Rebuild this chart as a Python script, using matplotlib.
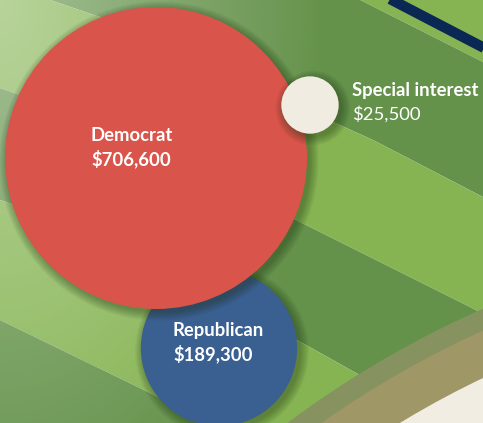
import numpy as np
import matplotlib.pyplot as plt
from matplotlib.patches import Circle

# campaign money by source
parties = ['Democrat', 'Republican', 'Special interest']
amounts = [706600, 189300, 25500]
amount_labels = ['$706,600', '$189,300', '$25,500']
colors = ['#d9544a', '#3a5f91', '#f0ece2']

# layout (pixels, y down)
W, H = 483, 423
centers = [(156, 158), (219, 348), (310, 105)]
r_max = 151
label_pos = [(91, 141), (173, 336), (352, 96)]
value_weight = ['bold', 'bold', 'normal']

# mowing stripe boundaries
bounds = [
    [(250, -56), (380, 10), (483, 62)],
    [(-10, -19), (50, 0), (100, 17), (373, 140), (483, 197)],
    [(-10, 85), (0, 88), (20, 95), (290, 217), (470, 307), (483, 314)],
    [(-10, 197), (0, 200), (60, 220), (297, 340), (365, 378), (483, 444)],
    [(-10, 315), (0, 320), (150, 393), (300, 470), (483, 560)],
]
dark = '#64924a'
light = '#86b453'

plt.rcParams['font.family'] = ['Lato', 'DejaVu Sans']

fig = plt.figure(figsize=(W / 100, H / 100), dpi=100)
ax = fig.add_axes([0, 0, 1, 1])
ax.set_xlim(0, W)
ax.set_ylim(H, 0)
ax.axis('off')

xs = np.linspace(-10, W + 10, 300)
ys = [np.interp(xs, [p[0] for p in b], [p[1] for p in b]) for b in bounds]
edges = [np.full_like(xs, -200)] + ys + [np.full_like(xs, H + 200)]
for i in range(len(edges) - 1):
    ax.fill_between(xs, edges[i], edges[i + 1], color=light if i % 2 == 0 else dark,
                    lw=0, zorder=0)

# infield dirt and grass
cc = (889, 1228)
ax.add_patch(Circle(cc, 1005, color='#86925f', lw=0, zorder=1))
ax.add_patch(Circle(cc, 985, color='#a09767', lw=0, zorder=1))
ax.add_patch(Circle(cc, 942, color='#f1ede3', lw=0, zorder=1))

# outfield wall
wx = np.array([380, 495])
ax.plot(wx, 25 + 0.52 * (wx - 440), color='#0b2753', lw=7.5, solid_capstyle='butt', zorder=2)

# whitish wash from the top left
gx, gy = np.meshgrid(np.arange(W), np.arange(H))
a = 0.42 * np.clip(1 - np.sqrt((gx / 330.0) ** 2 + (gy / 560.0) ** 2), 0, 1)
wash = np.zeros((H, W, 4))
wash[..., :3] = 1
wash[..., 3] = a
ax.imshow(wash, extent=(0, W, H, 0), zorder=3, interpolation='bilinear')

order = [1, 0, 2]
for k in order:
    cx, cy = centers[k]
    r = r_max * np.sqrt(amounts[k] / amounts[0])
    for i in range(12):
        ax.add_patch(Circle((cx + 3, cy + 3), r + i * 0.8, color='#1d3312',
                            alpha=0.035, lw=0, zorder=4 + order.index(k) * 2))
    ax.add_patch(Circle((cx, cy), r, color=colors[k], lw=0,
                        zorder=5 + order.index(k) * 2))

for k in range(3):
    x, y = label_pos[k]
    ax.text(x, y, parties[k], color='white', fontsize=13.3, fontweight='bold',
            va='baseline', ha='left', zorder=20)
    ax.text(x, y + 24, amount_labels[k], color='white', fontsize=13.3,
            fontweight=value_weight[k], va='baseline', ha='left', zorder=20)

fig.savefig('out.png', dpi=100)
